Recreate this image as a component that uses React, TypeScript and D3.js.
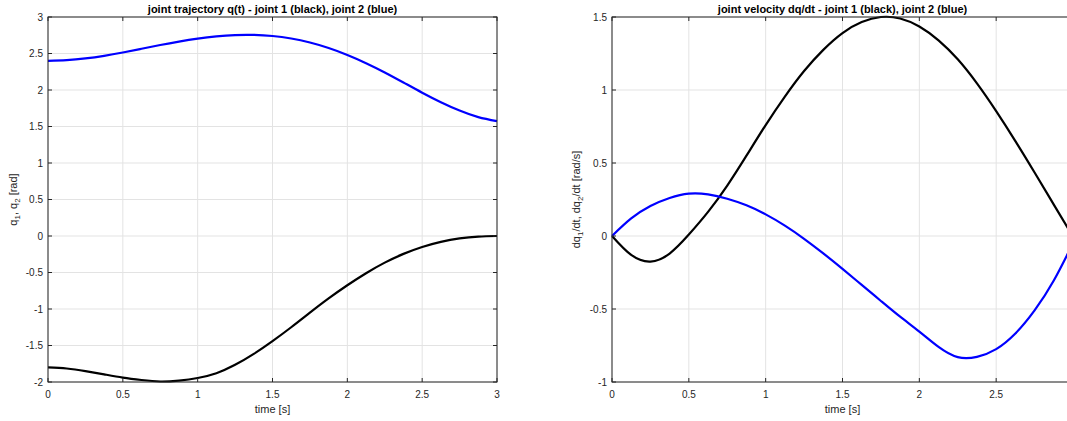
import React from 'react';
import * as d3 from 'd3';

// sample times [s]
const time = [0, 0.125, 0.25, 0.375, 0.5, 0.625, 0.75, 0.875, 1, 1.125, 1.25, 1.375, 1.5,
  1.625, 1.75, 1.875, 2, 2.125, 2.25, 2.375, 2.5, 2.625, 2.75, 2.875, 3];

// joint positions [rad]
const q1 = [-1.8, -1.815, -1.85, -1.895, -1.94, -1.973, -1.993, -1.98, -1.945, -1.88, -1.765, -1.615, -1.44,
  -1.25, -1.05, -0.855, -0.675, -0.51, -0.365, -0.245, -0.15, -0.08, -0.033, -0.008, 0];
const q2 = [2.4, 2.409, 2.432, 2.468, 2.514, 2.565, 2.616, 2.663, 2.704, 2.735, 2.753, 2.755, 2.74,
  2.705, 2.65, 2.575, 2.48, 2.368, 2.241, 2.103, 1.963, 1.833, 1.718, 1.628, 1.573];

// joint velocities [rad/s]
const dq1 = [0, -0.13, -0.175, -0.12, 0.01, 0.165, 0.345, 0.55, 0.76, 0.955, 1.13, 1.275, 1.39,
  1.465, 1.5, 1.49, 1.435, 1.34, 1.21, 1.045, 0.855, 0.65, 0.435, 0.215, -0.005];
const dq2 = [0, 0.12, 0.205, 0.26, 0.29, 0.285, 0.255, 0.21, 0.148, 0.071, -0.019, -0.119, -0.225,
  -0.335, -0.445, -0.553, -0.655, -0.76, -0.83, -0.828, -0.775, -0.668, -0.51, -0.305, -0.05];

const xTicks = [0, 0.5, 1, 1.5, 2, 2.5, 3];
const yTicksQ = [-2, -1.5, -1, -0.5, 0, 0.5, 1, 1.5, 2, 2.5, 3];
const yTicksV = [-1, -0.5, 0, 0.5, 1, 1.5];

const W = 1067;
const H = 421;
const FONT = '"Liberation Sans", Arial, Helvetica, sans-serif';
const AX = '#262626';
const GRID = '#e3e3e3';
const TICK = 4;

type Series = { values: number[]; color: string };

type PanelProps = {
  left: number;
  right: number;
  yDomain: [number, number];
  yTicks: number[];
  title: string;
  ylabel: React.ReactNode;
  ylabelX: number;
  series: Series[];
};

const TOP = 17;
const BOTTOM = 382;

const Panel = ({ left, right, yDomain, yTicks, title, ylabel, ylabelX, series }: PanelProps) => {
  const x = d3.scaleLinear().domain([0, 3]).range([left, right]);
  const y = d3.scaleLinear().domain(yDomain).range([BOTTOM, TOP]);
  const line = d3.line<number>()
    .x((_, i) => x(time[i]))
    .y(d => y(d))
    .curve(d3.curveNatural);
  const cx = (left + right) / 2;
  const fmt = (v: number) => String(v);

  return (
    <g fontFamily={FONT}>
      {/* grid */}
      {xTicks.map(t => (
        <line key={'gx' + t} x1={x(t)} x2={x(t)} y1={TOP} y2={BOTTOM} stroke={GRID} strokeWidth={1} />
      ))}
      {yTicks.map(t => (
        <line key={'gy' + t} x1={left} x2={right} y1={y(t)} y2={y(t)} stroke={GRID} strokeWidth={1} />
      ))}
      {/* curves */}
      {series.map((s, i) => (
        <path key={i} d={line(s.values) || ''} fill="none" stroke={s.color} strokeWidth={2.2}
          strokeLinejoin="round" />
      ))}
      {/* box */}
      <rect x={left} y={TOP} width={right - left} height={BOTTOM - TOP} fill="none" stroke={AX} strokeWidth={1} />
      {/* ticks */}
      {xTicks.map(t => (
        <g key={'tx' + t}>
          <line x1={x(t)} x2={x(t)} y1={BOTTOM} y2={BOTTOM - TICK} stroke={AX} />
          <line x1={x(t)} x2={x(t)} y1={TOP} y2={TOP + TICK} stroke={AX} />
          {x(t) < W - 4 && (
            <text x={x(t)} y={398} textAnchor="middle" fontSize={10} fill={AX}>{fmt(t)}</text>
          )}
        </g>
      ))}
      {yTicks.map(t => (
        <g key={'ty' + t}>
          <line x1={left} x2={left + TICK} y1={y(t)} y2={y(t)} stroke={AX} />
          <line x1={right} x2={right - TICK} y1={y(t)} y2={y(t)} stroke={AX} />
          <text x={left - 5} y={y(t)} dy="0.35em" textAnchor="end" fontSize={10} fill={AX}>{fmt(t)}</text>
        </g>
      ))}
      {/* labels */}
      <text x={cx} y={13} textAnchor="middle" fontSize={11} fontWeight="bold" fill="#000">{title}</text>
      <text x={cx} y={413} textAnchor="middle" fontSize={11} fill={AX}>time [s]</text>
      <text transform={`translate(${ylabelX},${(TOP + BOTTOM) / 2}) rotate(-90)`} textAnchor="middle"
        fontSize={11} fill={AX}>{ylabel}</text>
    </g>
  );
};

const Sub = ({ children }: { children: React.ReactNode }) => (
  <tspan fontSize={8} dy={3}>{children}</tspan>
);
const Up = ({ children }: { children: React.ReactNode }) => (
  <tspan dy={-3}>{children}</tspan>
);

const App = () => {
  return (
    <div style={{ position: 'absolute', left: 0, top: 0 }}>
      <svg width={W} height={H} style={{ display: 'block', background: '#fff' }}>
        <Panel
          left={48}
          right={497}
          yDomain={[-2, 3]}
          yTicks={yTicksQ}
          title="joint trajectory q(t) - joint 1 (black), joint 2 (blue)"
          ylabelX={17}
          ylabel={<>q<Sub>1</Sub><Up>, q</Up><Sub>2</Sub><Up> [rad]</Up></>}
          series={[{ values: q1, color: '#000' }, { values: q2, color: '#0000ff' }]}
        />
        <Panel
          left={612}
          right={1073}
          yDomain={[-1, 1.5]}
          yTicks={yTicksV}
          title="joint velocity dq/dt - joint 1 (black), joint 2 (blue)"
          ylabelX={580}
          ylabel={<>dq<Sub>1</Sub><Up>/dt, dq</Up><Sub>2</Sub><Up>/dt [rad/s]</Up></>}
          series={[{ values: dq1, color: '#000' }, { values: dq2, color: '#0000ff' }]}
        />
      </svg>
    </div>
  );
};

export default App;
